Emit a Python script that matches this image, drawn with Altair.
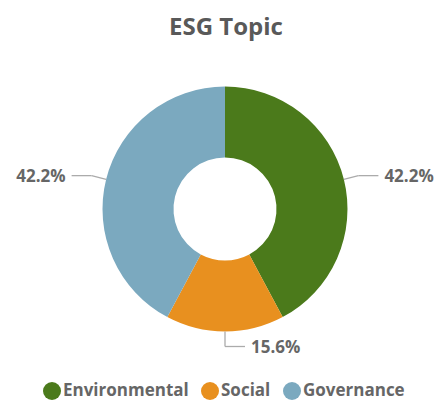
import altair as alt
import pandas as pd

topics = ["Environmental", "Social", "Governance"]
values = [42.2, 15.6, 42.2]
colors = ["#4B7A1B", "#E8901F", "#7BA9BF"]
labels = ["42.2%", "15.6%", "42.2%"]

W, H = 427, 392
CX, CY = 217.0, 201.0
R_OUT, R_IN = 122.5, 51.5
RADIAL, HORIZ, GAP = 15, 20, 6

df = pd.DataFrame({"topic": topics, "value": values, "label": labels, "order": list(range(len(topics)))})

xs = alt.Scale(domain=[0, W], nice=False, zero=False)
ys = alt.Scale(domain=[H, 0], nice=False, zero=False)

color = alt.Color(
    "topic:N",
    scale=alt.Scale(domain=topics, range=colors),
    sort=topics,
    legend=alt.Legend(
        orient="none", legendX=35, legendY=374, direction="horizontal", title=None,
        symbolType="circle", symbolSize=324, symbolStrokeWidth=0, symbolOpacity=1,
        labelFont="Open Sans", labelFontSize=17, labelFontWeight="bold", labelColor="#666666",
        labelOffset=2, columnPadding=12, padding=0,
    ),
)

arc = alt.Chart(df).mark_arc(outerRadius=R_OUT, innerRadius=R_IN).encode(
    theta=alt.Theta("value:Q", stack=True),
    order=alt.Order("order:Q"),
    color=color,
    x=alt.value(CX),
    y=alt.value(CY),
)

geo = (
    alt.Chart(df)
    .transform_joinaggregate(total="sum(value)")
    .transform_window(cum="sum(value)", sort=[alt.SortField("order")])
    .transform_calculate(mid="2*PI*(datum.cum - datum.value/2)/datum.total")
    .transform_calculate(
        sx=f"{CX} + {R_OUT}*sin(datum.mid)",
        sy=f"{CY} - {R_OUT}*cos(datum.mid)",
        ex=f"{CX} + {R_OUT + RADIAL}*sin(datum.mid)",
        ey=f"{CY} - {R_OUT + RADIAL}*cos(datum.mid)",
        dir="sin(datum.mid) > -0.001 ? 1 : -1",
    )
    .transform_calculate(hx=f"datum.ex + datum.dir*{HORIZ}")
    .transform_calculate(tx=f"datum.hx + datum.dir*{GAP}")
)

seg1 = geo.mark_rule(color="#ABABAB", strokeWidth=1.3).encode(
    x=alt.X("sx:Q", scale=xs, axis=None),
    y=alt.Y("sy:Q", scale=ys, axis=None),
    x2="ex:Q",
    y2="ey:Q",
)
seg2 = geo.mark_rule(color="#ABABAB", strokeWidth=1.3).encode(
    x=alt.X("ex:Q", scale=xs, axis=None),
    y=alt.Y("ey:Q", scale=ys, axis=None),
    x2="hx:Q",
    y2="ey:Q",
)

txt_style = dict(font="Open Sans", fontSize=17, fontWeight="bold", color="#666666", baseline="middle", dy=1.5)
txt_r = geo.transform_filter("datum.dir > 0").mark_text(align="left", **txt_style).encode(
    x=alt.X("tx:Q", scale=xs, axis=None), y=alt.Y("ey:Q", scale=ys, axis=None), text="label:N"
)
txt_l = geo.transform_filter("datum.dir < 0").mark_text(align="right", **txt_style).encode(
    x=alt.X("tx:Q", scale=xs, axis=None), y=alt.Y("ey:Q", scale=ys, axis=None), text="label:N"
)

title_df = pd.DataFrame({"t": ["ESG Topic"]})
title = alt.Chart(title_df).mark_text(
    font="Open Sans", fontSize=24, fontWeight="bold", color="#595959", align="center", baseline="alphabetic"
).encode(x=alt.value(CX + 1), y=alt.value(27), text="t:N")

chart = (
    alt.layer(arc, seg1, seg2, txt_r, txt_l, title)
    .properties(width=W, height=H, autosize=alt.AutoSizeParams(type="none"), padding=0)
    .configure_view(stroke=None)
)

chart.save("out.html", embed_options={"renderer": "svg", "actions": False})
